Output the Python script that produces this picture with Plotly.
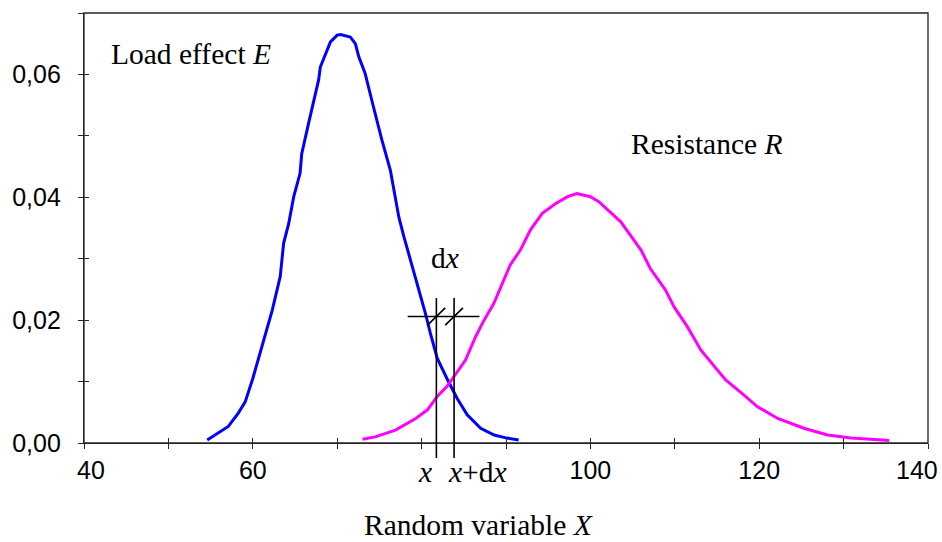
import plotly.graph_objects as go

# Load effect E: probability density
load_x = [54.6, 55.9, 57.1, 58.3, 59.1, 60.0, 61.3, 62.3, 63.25, 63.65, 64.25, 64.85,
          65.6, 65.8, 66.6, 67.4, 67.8, 68.0, 68.6, 69.2, 70.0, 70.4, 71.55, 72.15,
          72.55, 73.3, 74.3, 75.3, 76.3, 76.7, 77.3, 77.9, 78.7, 79.65, 80.45, 81.05,
          81.85, 83.0, 84.2, 85.4, 87.0, 88.6, 90.1, 91.5]
load_y = [0.0005, 0.0016, 0.0027, 0.0049, 0.0067, 0.0105, 0.0168, 0.0216, 0.0271,
          0.0325, 0.0357, 0.0401, 0.0439, 0.0471, 0.0520, 0.0569, 0.0591, 0.0612,
          0.0634, 0.0653, 0.0664, 0.0665, 0.0661, 0.0650, 0.0629, 0.0602, 0.0547,
          0.0493, 0.0444, 0.0412, 0.0368, 0.0336, 0.0298, 0.0249, 0.0211, 0.0178,
          0.0138, 0.0105, 0.0073, 0.0046, 0.0024, 0.0013, 0.0008, 0.0005]

# Resistance R: probability density
res_x = [73.0, 74.5, 76.9, 79.3, 80.7, 81.8, 83.0, 83.8, 85.2, 86.4, 87.4, 88.55,
         89.55, 90.5, 91.7, 92.9, 94.3, 95.9, 97.3, 98.4, 100.0, 101.0, 103.6, 104.8,
         106.0, 107.1, 108.9, 109.9, 111.5, 113.1, 114.6, 116.0, 118.2, 119.8, 122.2,
         125.3, 128.1, 130.9, 133.2, 135.4]
res_y = [0.0006, 0.0010, 0.0021, 0.0040, 0.0054, 0.0075, 0.0092, 0.0108, 0.0135,
         0.0173, 0.0200, 0.0227, 0.0260, 0.0290, 0.0314, 0.0347, 0.0374, 0.0390,
         0.0401, 0.0406, 0.0401, 0.0393, 0.0360, 0.0336, 0.0314, 0.0284, 0.0249,
         0.0222, 0.0189, 0.0151, 0.0127, 0.0103, 0.0078, 0.0059, 0.0040, 0.0024,
         0.0013, 0.0008, 0.0006, 0.0004]

# Axis ticks; the last x label is set as a right-aligned note so it stays inside
NB = "\u00a0"
x_ticks = [40, 50, 60, 70, 80, 90, 100, 110, 120, 130, 140]
x_tick_text = [NB * 2 + "40", "", "60", "", "", "", "100", "", "120", "", ""]
x_end_label = "140"
y_ticks = [0.00, 0.01, 0.02, 0.03, 0.04, 0.05, 0.06, 0.07]
y_tick_text = ["0,00", "", "0,02", "", "0,04", "", "0,06", ""]

# Interval [x, x+dx] marked on the plot
X_POS = 81.75
DX = 2.1
DIM_Y = 0.0206

SERIF = "Liberation Serif"
SANS = "Liberation Sans"
AXIS_COLOR = "#262626"

fig = go.Figure()
fig.add_trace(go.Scatter(x=load_x, y=load_y, mode="lines",
                         line=dict(color="#0000FF", width=3),
                         showlegend=False, hoverinfo="skip"))
fig.add_trace(go.Scatter(x=res_x, y=res_y, mode="lines",
                         line=dict(color="#FF00FF", width=3),
                         showlegend=False, hoverinfo="skip"))
# empty trace carrying the overlay axes (inner half of the crossing ticks)
fig.add_trace(go.Scatter(x=[], y=[], xaxis="x2", yaxis="y2", showlegend=False))

# plot frame
fig.add_shape(type="rect", xref="paper", yref="paper", x0=0, x1=1, y0=0, y1=1,
              line=dict(color=AXIS_COLOR, width=1.3), fillcolor="rgba(0,0,0,0)")

# dimension lines for the interval
line_style = dict(color="black", width=1.6)
for xv in (X_POS, X_POS + DX):
    fig.add_shape(type="line", xref="x", yref="paper", x0=xv, x1=xv,
                  y0=-0.035, y1=0.337, line=line_style)
    fig.add_shape(type="line", xref="x", yref="y",
                  x0=xv - 1.05, x1=xv + 1.05, y0=DIM_Y - 0.0014, y1=DIM_Y + 0.0014,
                  line=line_style)
fig.add_shape(type="line", xref="x", yref="y", x0=X_POS - 3.4, x1=X_POS + DX + 3.0,
              y0=DIM_Y, y1=DIM_Y, line=line_style)

tick_font = dict(family=SANS, size=25, color="black")
serif_font = dict(family=SERIF, size=29.5, color="black")

fig.add_annotation(x=x_ticks[-1], y=-0.063, xref="x", yref="paper", xanchor="right",
                   yanchor="middle", xshift=12, text=x_end_label, showarrow=False,
                   font=tick_font)
fig.add_annotation(x=43.0, y=0.0634, xref="x", yref="y", xanchor="left", yanchor="middle",
                   text="Load effect <i>E</i>", showarrow=False, font=serif_font)
fig.add_annotation(x=104.6, y=0.0487, xref="x", yref="y", xanchor="left", yanchor="middle",
                   text="Resistance <i>R</i>", showarrow=False, font=serif_font)
fig.add_annotation(x=X_POS + DX / 2, y=0.0301, xref="x", yref="y", xanchor="center",
                   yanchor="middle", text="d<i>x</i>", showarrow=False, font=serif_font)
fig.add_annotation(x=X_POS, y=-0.068, xref="x", yref="paper", xanchor="right",
                   yanchor="middle", xshift=-2, text="<i>x</i>", showarrow=False,
                   font=serif_font)
fig.add_annotation(x=X_POS + DX, y=-0.068, xref="x", yref="paper", xanchor="left",
                   yanchor="middle", xshift=-8, text="<i>x</i>+d<i>x</i>", showarrow=False,
                   font=serif_font)
fig.add_annotation(x=0.468, y=-0.19, xref="paper", yref="paper", xanchor="center",
                   yanchor="middle", text="Random variable <i>X</i>", showarrow=False,
                   font=serif_font)

fig.update_layout(
    width=942, height=542,
    margin=dict(l=84, r=14, t=13, b=99, autoexpand=False),
    paper_bgcolor="white", plot_bgcolor="white",
    xaxis=dict(range=[40, 140], tickmode="array", tickvals=x_ticks, ticktext=x_tick_text,
               ticks="outside", ticklen=5, tickwidth=1.3, tickcolor=AXIS_COLOR,
               showline=True, linecolor=AXIS_COLOR, linewidth=1.3,
               showgrid=False, zeroline=False, tickfont=tick_font,
               ticklabeloverflow="allow", automargin=False),
    yaxis=dict(range=[0, 0.07], tickmode="array", tickvals=y_ticks, ticktext=y_tick_text,
               ticks="outside", ticklen=5, tickwidth=1.3, tickcolor=AXIS_COLOR,
               showline=True, linecolor=AXIS_COLOR, linewidth=1.3,
               showgrid=False, zeroline=False, tickfont=tick_font,
               ticklabelstandoff=12, ticklabeloverflow="allow", automargin=False),
    xaxis2=dict(overlaying="x", matches="x", anchor="y2", side="bottom",
                tickmode="array", tickvals=x_ticks, showticklabels=False,
                ticks="inside", ticklen=5, tickwidth=1.3, tickcolor=AXIS_COLOR,
                showline=False, showgrid=False, zeroline=False, automargin=False),
    yaxis2=dict(overlaying="y", matches="y", anchor="x2", side="left",
                tickmode="array", tickvals=y_ticks, showticklabels=False,
                ticks="inside", ticklen=5, tickwidth=1.3, tickcolor=AXIS_COLOR,
                showline=False, showgrid=False, zeroline=False, automargin=False),
)

fig.write_html("out.html")
